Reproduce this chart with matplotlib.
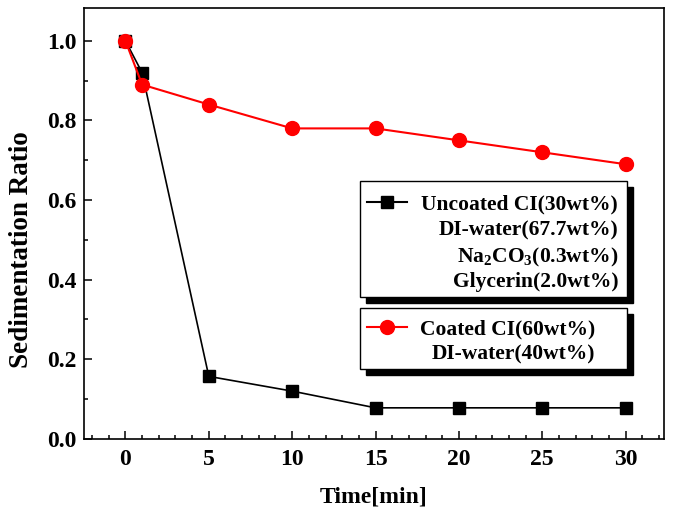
import numpy as np
import matplotlib
matplotlib.use("Agg")
import matplotlib.pyplot as plt
from matplotlib.patches import Rectangle
from matplotlib.lines import Line2D
from matplotlib.ticker import MultipleLocator

plt.rcParams['font.family'] = 'Liberation Serif'
plt.rcParams['font.weight'] = 'bold'
plt.rcParams['mathtext.fontset'] = 'custom'
plt.rcParams['mathtext.rm'] = 'Liberation Serif:bold'
plt.rcParams['mathtext.it'] = 'Liberation Serif:bold'
plt.rcParams['mathtext.bf'] = 'Liberation Serif:bold'

# data
time_min = [0, 1, 5, 10, 15, 20, 25, 30]
uncoated = [1.0, 0.92, 0.157, 0.12, 0.078, 0.078, 0.078, 0.078]
coated = [1.0, 0.89, 0.84, 0.78, 0.78, 0.75, 0.72, 0.69]

uncoated_lines = ["Uncoated CI(30wt%)", "DI-water(67.7wt%)",
                  "Na$_2$CO$_3$(0.3wt%)", "Glycerin(2.0wt%)"]
coated_lines = ["Coated CI(60wt%)", "DI-water(40wt%)"]

fig = plt.figure(figsize=(6.81, 5.2), dpi=100)
ax = fig.add_axes([0.123, 0.156, 0.852, 0.829])

ax.plot(time_min, uncoated, color='black', lw=1.2, marker='s', ms=8.5)
ax.plot(time_min, coated, color='red', lw=1.5, marker='o', ms=10)

ax.set_xlim(-2.5, 32.3)
ax.set_ylim(0, 1.083)
ax.xaxis.set_major_locator(MultipleLocator(5))
ax.xaxis.set_minor_locator(MultipleLocator(1))
ax.yaxis.set_major_locator(MultipleLocator(0.2))
ax.yaxis.set_minor_locator(MultipleLocator(0.1))
ax.yaxis.set_major_formatter(matplotlib.ticker.FormatStrFormatter('%.1f'))
ax.tick_params(which='both', direction='in', width=1.1, labelsize=17)
ax.tick_params(which='major', length=6)
ax.tick_params(axis='x', which='major', pad=7)
ax.tick_params(axis='y', which='major', pad=5)
ax.tick_params(which='minor', length=3)
for s in ax.spines.values():
    s.set_linewidth(1.2)

ax.set_xlabel("Time[min]", fontsize=17, fontweight='bold', labelpad=12)
ax.set_ylabel("Sedimentation Ratio", fontsize=19.5, fontweight='bold')
ax.yaxis.set_label_coords(-0.085, 0.44)

# hand-made legend boxes with black drop shadows
def legend_box(x0, x1, y0, y1, color, marker, ms, lines, text_x, ys):
    dx, dy = 0.0103, 0.0139
    ax.add_patch(Rectangle((x0 + dx, y0 - dy), x1 - x0, y1 - y0, transform=ax.transAxes,
                           facecolor='black', edgecolor='black', zorder=5))
    ax.add_patch(Rectangle((x0, y0), x1 - x0, y1 - y0, transform=ax.transAxes,
                           facecolor='white', edgecolor='black', lw=1.0, zorder=6))
    ax.add_line(Line2D([0.488, 0.557], [ys[0], ys[0]], transform=ax.transAxes, color=color,
                       lw=1.5, zorder=7))
    ax.add_line(Line2D([0.522], [ys[0]], transform=ax.transAxes, color=color,
                       marker=marker, ms=ms, zorder=7))
    for t, y in zip(lines, ys):
        ax.text(text_x, y, t, transform=ax.transAxes, ha='right', va='center_baseline',
                fontsize=15.5, fontweight='bold', zorder=8)

legend_box(0.476, 0.936, 0.329, 0.599, 'black', 's', 8.5, uncoated_lines,
           0.921, [0.550, 0.490, 0.429, 0.369])
legend_box(0.476, 0.936, 0.162, 0.304, 'red', 'o', 10, coated_lines,
           0.881, [0.260, 0.202])

fig.savefig("out.png", dpi=100)
